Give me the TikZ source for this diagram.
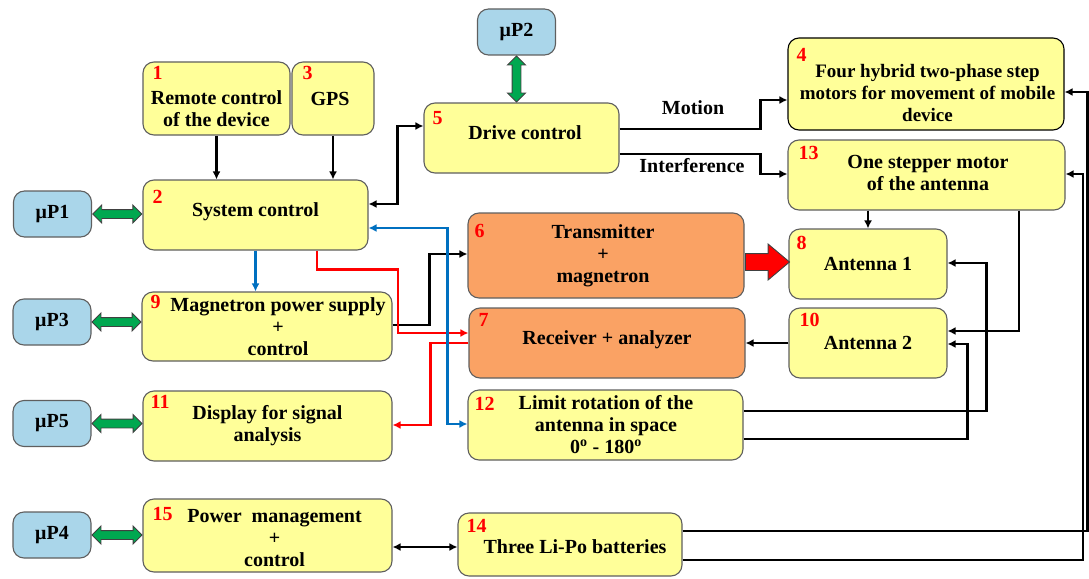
\documentclass[tikz,border=0pt]{standalone}
\usepackage{fontspec}
\setmainfont{Liberation Serif}
\usetikzlibrary{arrows.meta,shapes.arrows,calc}

\definecolor{boxyellow}{RGB}{255,255,153}
\definecolor{boxorange}{RGB}{250,162,100}
\definecolor{boxblue}{RGB}{170,214,234}
\definecolor{boxline}{RGB}{95,95,95}
\definecolor{fatgreen}{RGB}{0,168,80}
\definecolor{linkblue}{RGB}{0,112,192}
\definecolor{linkred}{RGB}{255,0,0}

\begin{document}
\begin{tikzpicture}[x=1pt, y=-1pt, >={Latex[length=8pt,width=8pt]},
  every node/.style={font=\fontsize{20}{22}\selectfont\bfseries},
  box/.style={draw=boxline, line width=1.1pt, rounded corners=11pt, inner sep=0pt},
  ybox/.style={box, fill=boxyellow},
  obox/.style={box, fill=boxorange},
  mpbox/.style={box, fill=boxblue, minimum width=78pt, minimum height=46pt},
  txt/.style={align=center, inner sep=0pt},
  num/.style={text=red, inner sep=0pt, anchor=north west},
  conn/.style={line width=2.4pt, ->},
  biconn/.style={line width=2.4pt, <->},
  fat/.style={double arrow, draw=black!75, line width=0.9pt, fill=fatgreen,
    inner sep=4pt, double arrow head extend=4.5pt, double arrow head indent=0pt},
  bigarrow/.style={single arrow, draw=black!75, line width=0.9pt, fill=red,
    inner sep=8pt, single arrow head extend=9.5pt, single arrow tip angle=80}
]
\useasboundingbox (0,0) rectangle (1089,578);

% ---------- microprocessors ----------
\node[mpbox] (mp1) at (52.5,214) {μP1};
\node[mpbox] (mp2) at (516.5,32) {μP2};
\node[mpbox] (mp3) at (52,322) {μP3};
\node[mpbox] (mp5) at (52,423.5) {μP5};
\node[mpbox] (mp4) at (52,535) {μP4};

% ---------- functional blocks ----------
\node[ybox, minimum width=147pt, minimum height=73pt] (b1) at (216.5,98.5) {};
\node[txt] (b1t) at ([yshift=-10pt]b1.center) {Remote control\\of the device};
\node[num] (b1n) at ([xshift=10pt,yshift=-5pt]b1.north west) {1};

\node[ybox, minimum width=82pt, minimum height=73pt] (b3) at (333,98.5) {};
\node[txt] (b3t) at ([xshift=-3pt]b3.center) {GPS};
\node[num] (b3n) at ([xshift=11pt,yshift=-5pt]b3.north west) {3};

\node[ybox, minimum width=225pt, minimum height=70pt] (b2) at (255.5,215) {};
\node[txt] (b2t) at ([yshift=3pt]b2.center) {System control};
\node[num] (b2n) at ([xshift=10pt,yshift=-11pt]b2.north west) {2};

\node[ybox, minimum width=195pt, minimum height=70pt] (b5) at (521.5,138) {};
\node[txt] (b5t) at ([xshift=3.5pt,yshift=5pt]b5.center) {Drive control};
\node[num] (b5n) at ([xshift=9pt,yshift=-9pt]b5.north west) {5};

\node[ybox, draw=black, minimum width=276pt, minimum height=92pt] (b4) at (926,84) {};
\node[txt, font=\fontsize{19}{22}\selectfont\bfseries] (b4t) at ([xshift=1.5pt,yshift=-9.5pt]b4.center) {Four hybrid two-phase step\\motors for movement of mobile\\device};
\node[num] (b4n) at ([xshift=9pt,yshift=-11pt]b4.north west) {4};

\node[ybox, minimum width=277pt, minimum height=70pt] (b13) at (926.5,175) {};
\node[txt] (b13t) at ([xshift=1.5pt,yshift=2.5pt]b13.center) {One stepper motor\\of the antenna};
\node[num] (b13n) at ([xshift=11pt,yshift=-7pt]b13.north west) {13};

\node[ybox, minimum width=158pt, minimum height=70pt] (b8) at (868,264) {};
\node[txt] (b8t) at (b8.center) {Antenna 1};
\node[num] (b8n) at ([xshift=8pt,yshift=-8pt]b8.north west) {8};

\node[ybox, minimum width=158pt, minimum height=70pt] (b10) at (868,343) {};
\node[txt] (b10t) at (b10.center) {Antenna 2};
\node[num] (b10n) at ([xshift=11pt,yshift=-6pt]b10.north west) {10};

\node[obox, minimum width=276pt, minimum height=85pt] (b6) at (606,255.5) {};
\node[txt] (b6t) at ([xshift=-3pt]b6.center) {Transmitter\\+\\magnetron};
\node[num] (b6n) at ([xshift=7pt,yshift=-12pt]b6.north west) {6};

\node[obox, minimum width=276pt, minimum height=70pt] (b7) at (607,343) {};
\node[txt] (b7t) at ([yshift=3pt]b7.center) {Receiver + analyzer};
\node[num] (b7n) at ([xshift=10pt,yshift=-6pt]b7.north west) {7};

\node[ybox, minimum width=275pt, minimum height=70pt] (b12) at (605.5,425) {};
\node[txt] (b12t) at ([xshift=0.5pt]b12.center) {Limit rotation of the\\antenna in space\\0\textsuperscript{o} - 180\textsuperscript{o}};
\node[num] (b12n) at ([xshift=7pt,yshift=-8pt]b12.north west) {12};

\node[ybox, minimum width=250pt, minimum height=69pt] (b9) at (267,326.5) {};
\node[txt] (b9t) at ([xshift=11pt]b9.center) {Magnetron power supply\\+\\control};
\node[num] (b9n) at ([xshift=9pt,yshift=-4pt]b9.north west) {9};

\node[ybox, minimum width=249pt, minimum height=70pt] (b11) at (267.5,426) {};
\node[txt] (b11t) at (b11.center) {Display for signal\\analysis};
\node[num] (b11n) at ([xshift=8pt,yshift=-5pt]b11.north west) {11};

\node[ybox, minimum width=249pt, minimum height=73pt] (b15) at (267.5,535.5) {};
\node[txt] (b15t) at ([xshift=7pt,yshift=-3pt]b15.center) {Power~ management\\+\\control};
\node[num] (b15n) at ([xshift=10pt,yshift=-9pt]b15.north west) {15};

\node[ybox, minimum width=224pt, minimum height=63pt] (b14) at (570,544.5) {};
\node[txt] (b14t) at ([xshift=5pt,yshift=-2.5pt]b14.center) {Three Li-Po batteries};
\node[num] (b14n) at ([xshift=9pt,yshift=-7pt]b14.north west) {14};

% ---------- fat bidirectional links to the microprocessors ----------
\path (mp1.east) -- (mp1.east -| b2.west) node[midway, fat, minimum height=49pt] (g1) {};
\path (mp3.east) -- (mp3.east -| b9.west) node[midway, fat, minimum height=49pt] (g3) {};
\path (mp5.east) -- (mp5.east -| b11.west) node[midway, fat, minimum height=50pt] (g5) {};
\path (mp4.east) -- (mp4.east -| b15.west) node[midway, fat, minimum height=50pt] (g4) {};
\path (mp2.south) -- (mp2.south |- b5.north) node[midway, fat, rotate=90, minimum height=46pt] (g2) {};

% ---------- power from transmitter to antenna 1 ----------
\node[bigarrow, anchor=tail, minimum height=44pt] (ga) at ([xshift=0.5pt,yshift=-6.5pt]b6.east) {};

% ---------- black control links ----------
\draw[conn] (b1.south) -- (b1.south |- b2.north);
\draw[conn] (b3.south) -- (b3.south |- b2.north);
\draw[biconn] ([yshift=11pt]b2.east) -- ++(29,0) |- ([yshift=12pt]b5.west);
\draw[conn] ([yshift=9pt]b5.east) -- ++(141,0) |- ([yshift=-16pt]b4.west);
\draw[conn] ([yshift=-16pt]b5.east) -- ++(141,0) |- ([yshift=1pt]b13.west);
\node (lmotion) at (693,108) {Motion};
\node (linterf) at (692,166) {Interference};
\draw[conn] (b8.north |- b13.south) -- (b8.north);
\draw[conn] ([xshift=92.5pt]b13.south) |- ([yshift=12pt]b10.east);
\draw[conn] ([yshift=14pt]b12.east) -- ++(243,0) |- ([yshift=1pt]b8.east);
\draw[conn] ([yshift=-14pt]b12.east) -- ++(224,0) |- ([yshift=-1pt]b10.east);
\draw[conn] (b10.west) -- (b7.east);
\draw[conn] ([yshift=1.5pt]b9.east) -- ++(37,0) |- ([yshift=1.5pt]b6.west);
\draw[biconn] ([yshift=-11.5pt]b15.east) -- ([yshift=-11.5pt]b15.east -| b14.west);
\draw[conn] ([yshift=13.5pt]b14.east) -- (1087.5,531) |- ([yshift=-8pt]b4.east);
\draw[conn] ([yshift=-15.5pt]b14.east) -- (1083,560) |- ([yshift=1pt]b13.east);

% ---------- red signal links ----------
\draw[conn, linkred] ([xshift=61.5pt]b2.south) -- ++(0,19) -- ++(81,0) |- ([yshift=10pt]b7.west);
\draw[conn, linkred] (b7.west) -- ++(-38,0) |- ([yshift=1pt]b11.east);

% ---------- blue links ----------
\draw[conn, linkblue] (b2.south) -- (b2.south |- b9.north);
\draw[biconn, linkblue] ([yshift=-13pt]b2.east) -- ++(79,0) |- ([yshift=1pt]b12.west);
\end{tikzpicture}
\end{document}
